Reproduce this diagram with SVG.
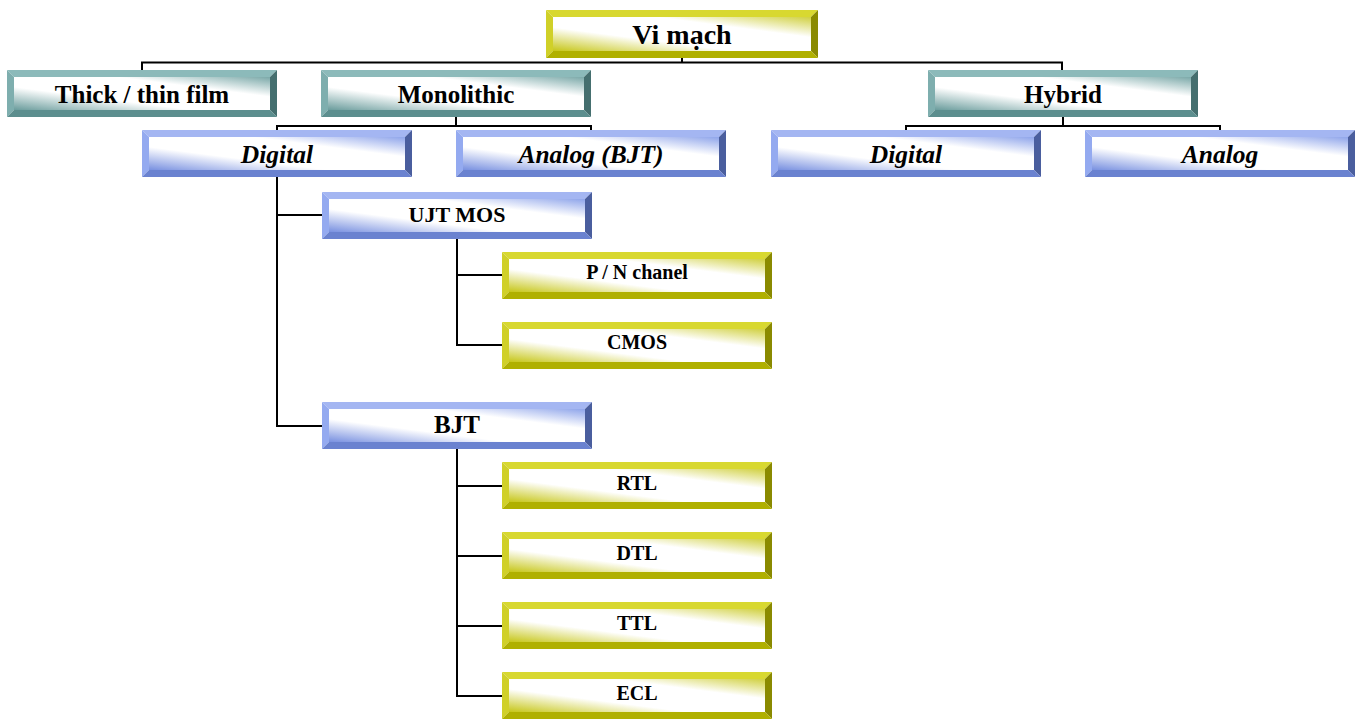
<svg xmlns="http://www.w3.org/2000/svg" xmlns:xlink="http://www.w3.org/1999/xlink" width="1360" height="720" viewBox="0 0 1360 720">
<style>
text{font-family:"Liberation Serif","Times New Roman",serif;font-weight:bold;fill:#000;text-anchor:middle;dominant-baseline:central}
.t0{font-size:28px}.t1{font-size:25px}.t2{font-size:25.5px;font-style:italic}.t3{font-size:22px}.t4{font-size:20px}
.con{fill:none;stroke:#000;stroke-width:2}
</style>
<defs>
<linearGradient id="gY" x1="0" y1="1" x2="1" y2="0"><stop offset="0" stop-color="#c6c618"/><stop offset="0.35" stop-color="#ffffff"/><stop offset="0.7" stop-color="#ffffff"/><stop offset="1" stop-color="#d0d040"/></linearGradient>
<linearGradient id="gT" x1="0" y1="1" x2="1" y2="0"><stop offset="0" stop-color="#6a9c9c"/><stop offset="0.35" stop-color="#ffffff"/><stop offset="0.7" stop-color="#ffffff"/><stop offset="1" stop-color="#7aa8a8"/></linearGradient>
<linearGradient id="gB" x1="0" y1="1" x2="1" y2="0"><stop offset="0" stop-color="#7890e0"/><stop offset="0.35" stop-color="#ffffff"/><stop offset="0.7" stop-color="#ffffff"/><stop offset="1" stop-color="#8ea4ea"/></linearGradient>
<g id="bY">
<polygon points="0,0 270,0 263,7 7,7" fill="#d8d830"/>
<polygon points="0,0 7,7 7,40 0,47" fill="#d0d028"/>
<polygon points="270,0 270,47 263,40 263,7" fill="#8a8a00"/>
<polygon points="0,47 270,47 263,40 7,40" fill="#b0b000"/>
<rect x="7" y="7" width="256" height="33" fill="url(#gY)"/>
</g>
<g id="bY0">
<polygon points="0,0 272,0 265,7 7,7" fill="#d8d830"/>
<polygon points="0,0 7,7 7,41 0,48" fill="#d0d028"/>
<polygon points="272,0 272,48 265,41 265,7" fill="#8a8a00"/>
<polygon points="0,48 272,48 265,41 7,41" fill="#b0b000"/>
<rect x="7" y="7" width="258" height="34" fill="url(#gY)"/>
</g>
<g id="bT">
<polygon points="0,0 270,0 263,7 7,7" fill="#8cbaba"/>
<polygon points="0,0 7,7 7,40 0,47" fill="#7eaeae"/>
<polygon points="270,0 270,47 263,40 263,7" fill="#456f6f"/>
<polygon points="0,47 270,47 263,40 7,40" fill="#5c8e8e"/>
<rect x="7" y="7" width="256" height="33" fill="url(#gT)"/>
</g>
<g id="bB">
<polygon points="0,0 270,0 263,7 7,7" fill="#a4b6f2"/>
<polygon points="0,0 7,7 7,40 0,47" fill="#94aaf0"/>
<polygon points="270,0 270,47 263,40 263,7" fill="#4a5e9e"/>
<polygon points="0,47 270,47 263,40 7,40" fill="#6a82d0"/>
<rect x="7" y="7" width="256" height="33" fill="url(#gB)"/>
</g>
</defs>
<rect width="1360" height="720" fill="#fff"/>
<g id="connectors">
<path class="con" d="M682 58V62.5M142 70V62.5H1062V70"/>
<path class="con" d="M456 117V126M277 130V126H591V130"/>
<path class="con" d="M1063 117V126M906 130V126H1220V130"/>
<path class="con" d="M277 177V426H322M277 215H322"/>
<path class="con" d="M457 239V345H502M457 275H502"/>
<path class="con" d="M457 449V696H502M457 486H502M457 556H502M457 626H502"/>
</g>
<g id="n-vimach"><use xlink:href="#bY0" x="546" y="10"/><text class="t0" x="682" y="34">Vi mạch</text></g>
<g id="n-thick"><use xlink:href="#bT" x="7" y="70"/><text class="t1" x="142" y="94">Thick / thin film</text></g>
<g id="n-mono"><use xlink:href="#bT" x="321" y="70"/><text class="t1" x="456" y="94">Monolithic</text></g>
<g id="n-hybrid"><use xlink:href="#bT" x="928" y="70"/><text class="t1" x="1063" y="94">Hybrid</text></g>
<g id="n-m-digital"><use xlink:href="#bB" x="142" y="130"/><text class="t2" x="277" y="154">Digital</text></g>
<g id="n-m-analog"><use xlink:href="#bB" x="456" y="130"/><text class="t2" x="591" y="154">Analog (BJT)</text></g>
<g id="n-h-digital"><use xlink:href="#bB" x="771" y="130"/><text class="t2" x="906" y="154">Digital</text></g>
<g id="n-h-analog"><use xlink:href="#bB" x="1085" y="130"/><text class="t2" x="1220" y="154">Analog</text></g>
<g id="n-ujtmos"><use xlink:href="#bB" x="322" y="192"/><text class="t3" x="457" y="214">UJT MOS</text></g>
<g id="n-bjt"><use xlink:href="#bB" x="322" y="402"/><text class="t1" x="457" y="424">BJT</text></g>
<g id="n-pn"><use xlink:href="#bY" x="502" y="252"/><text class="t4" x="637" y="272">P / N chanel</text></g>
<g id="n-cmos"><use xlink:href="#bY" x="502" y="322"/><text class="t4" x="637" y="342">CMOS</text></g>
<g id="n-rtl"><use xlink:href="#bY" x="502" y="462"/><text class="t4" x="637" y="483">RTL</text></g>
<g id="n-dtl"><use xlink:href="#bY" x="502" y="532"/><text class="t4" x="637" y="553">DTL</text></g>
<g id="n-ttl"><use xlink:href="#bY" x="502" y="602"/><text class="t4" x="637" y="623">TTL</text></g>
<g id="n-ecl"><use xlink:href="#bY" x="502" y="672"/><text class="t4" x="637" y="693">ECL</text></g>
</svg>
